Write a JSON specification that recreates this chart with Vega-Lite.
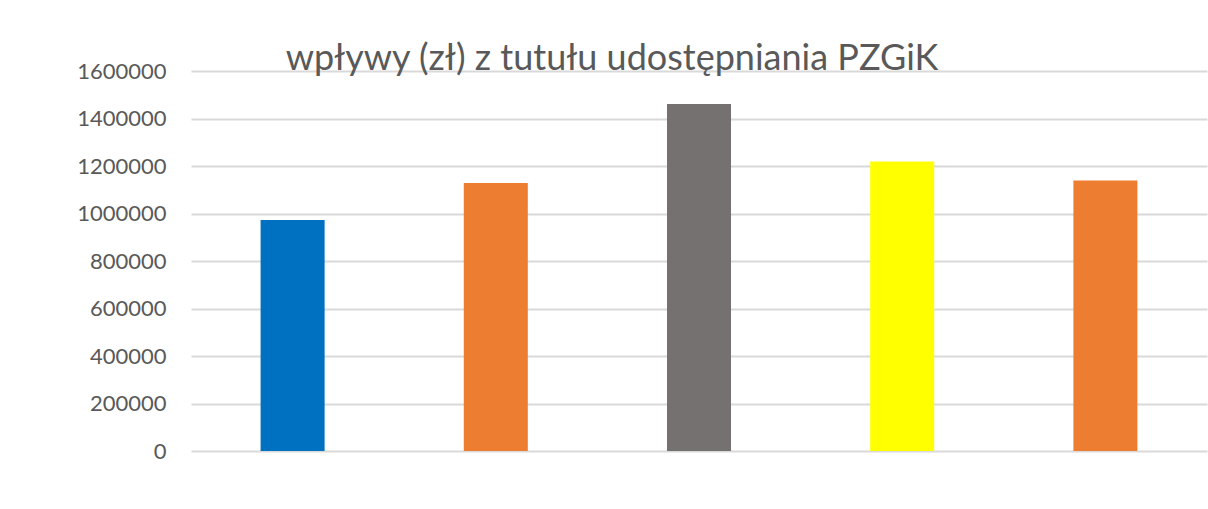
{
  "$schema": "https://vega.github.io/schema/vega-lite/v6.json",
  "autosize": {"type": "none"},
  "padding": {"left": 191, "top": 71, "right": 1, "bottom": 58},
  "width": 1016,
  "height": 380,
  "background": "white",
  "title": {
    "text": "wpływy (zł) z tutułu udostępniania PZGiK",
    "font": "Lato",
    "fontSize": 36,
    "fontWeight": "normal",
    "color": "#595959",
    "anchor": "middle",
    "frame": "group",
    "baseline": "alphabetic",
    "offset": 0,
    "dx": -87,
    "dy": 46
  },
  "data": {
    "values": [
      {"kategoria": "1", "wplywy": 972600},
      {"kategoria": "2", "wplywy": 1128400},
      {"kategoria": "3", "wplywy": 1461000},
      {"kategoria": "4", "wplywy": 1219400},
      {"kategoria": "5", "wplywy": 1139400}
    ]
  },
  "mark": {"type": "bar"},
  "encoding": {
    "x": {
      "field": "kategoria",
      "type": "nominal",
      "axis": null,
      "scale": {"paddingInner": 0.685, "paddingOuter": 0.3425}
    },
    "y": {
      "field": "wplywy",
      "type": "quantitative",
      "scale": {"domain": [0, 1600000], "nice": false},
      "axis": {
        "title": null,
        "values": [0, 200000, 400000, 600000, 800000, 1000000, 1200000, 1400000, 1600000],
        "format": "d",
        "domain": false,
        "ticks": false,
        "labelPadding": 25,
        "labelFont": "Lato",
        "labelFontSize": 22,
        "labelColor": "#595959",
        "gridColor": "#d9d9d9",
        "gridWidth": 2
      }
    },
    "color": {
      "field": "kategoria",
      "type": "nominal",
      "legend": null,
      "scale": {
        "domain": ["1", "2", "3", "4", "5"],
        "range": ["#0070C0", "#ED7D31", "#767171", "#FFFF00", "#ED7D31"]
      }
    }
  },
  "config": {"view": {"stroke": null}}
}
